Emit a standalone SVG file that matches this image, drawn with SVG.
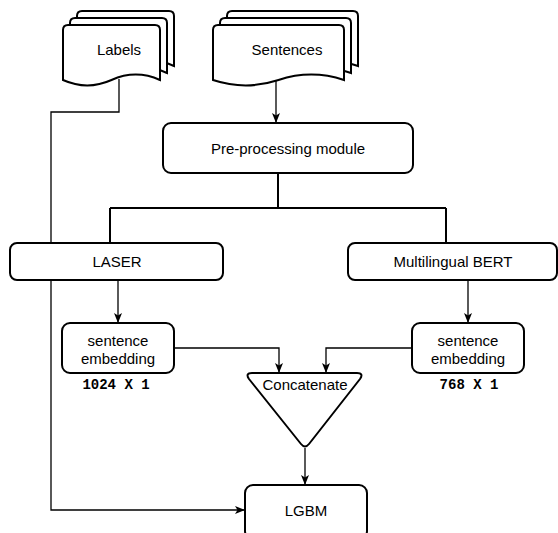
<svg xmlns="http://www.w3.org/2000/svg" width="558" height="533" viewBox="0 0 558 533">
<defs>
<style>
.node{fill:#fff;stroke:#000;stroke-width:2}
.t{font-family:"Liberation Sans",Arial,Helvetica,sans-serif;font-size:15px;fill:#000;text-anchor:middle}
.m{font-family:"Liberation Mono","Courier New",monospace;font-size:14px;font-weight:bold;fill:#000;text-anchor:middle}
.e{fill:none;stroke:#000;stroke-width:1.3}
.b{fill:none;stroke:#000;stroke-width:2}
</style>
<marker id="arr" viewBox="0 0 10 10" refX="10" refY="5" markerWidth="10" markerHeight="10" markerUnits="userSpaceOnUse" orient="auto">
<path d="M0,1 L10,5 L0,9 L2.5,5 Z" fill="#000"/>
</marker>
</defs>
<rect width="558" height="533" fill="#fff"/>
<g id="connectors">
<path class="e" d="M119,79 V112 H51 V510 H245" marker-end="url(#arr)"/>
<path class="e" d="M276,80 V123" marker-end="url(#arr)"/>
<path class="b" d="M278,173 V208"/>
<path class="b" d="M110,208 H446"/>
<path class="b" d="M110,208 V243"/>
<path class="b" d="M446,208 V243"/>
<path class="e" d="M118,280 V323" marker-end="url(#arr)"/>
<path class="e" d="M468,280 V323" marker-end="url(#arr)"/>
<path class="e" d="M174,348 H279 V373" marker-end="url(#arr)"/>
<path class="e" d="M412,348 H326 V373" marker-end="url(#arr)"/>
<path class="e" d="M305,448 V485" marker-end="url(#arr)"/>
</g>
<g id="labels">
<path class="node" d="M77,16 Q77,11 82,11 L169,11 Q174,11 174,16 L174,66 Q149.75,55.2 125.5,66 Q101.25,76.8 77,66 Z"/>
<path class="node" d="M70,23 Q70,18 75,18 L162,18 Q167,18 167,23 L167,73 Q142.75,62.2 118.5,73 Q94.25,83.8 70,73 Z"/>
<path class="node" d="M63,30 Q63,25 68,25 L155,25 Q160,25 160,30 L160,80 Q135.75,69.2 111.5,80 Q87.25,90.8 63,80 Z"/>
<text class="t" x="119" y="55">Labels</text>
</g>
<g id="sentences">
<path class="node" d="M227,16 Q227,11 232,11 L353,11 Q358,11 358,16 L358,66 Q325.25,55.2 292.5,66 Q259.75,76.8 227,66 Z"/>
<path class="node" d="M220,23 Q220,18 225,18 L346,18 Q351,18 351,23 L351,73 Q318.25,62.2 285.5,73 Q252.75,83.8 220,73 Z"/>
<path class="node" d="M213,30 Q213,25 218,25 L339,25 Q344,25 344,30 L344,80 Q311.25,69.2 278.5,80 Q245.75,90.8 213,80 Z"/>
<text class="t" x="287" y="55">Sentences</text>
</g>
<g id="preprocessing">
<rect class="node" x="163" y="123" width="250" height="50" rx="8"/>
<text class="t" x="288" y="154">Pre-processing module</text>
</g>
<g id="laser">
<rect class="node" x="10" y="243" width="213" height="37" rx="7"/>
<text class="t" x="117" y="267">LASER</text>
</g>
<g id="bert">
<rect class="node" x="348" y="243" width="209" height="37" rx="7"/>
<text class="t" x="453" y="267">Multilingual BERT</text>
</g>
<g id="emb-left">
<rect class="node" x="62" y="323" width="112" height="50" rx="8" stroke-width="1.3"/>
<text class="t" x="118" y="346">sentence</text>
<text class="t" x="118" y="364">embedding</text>
<text class="m" x="116" y="389">1024 X 1</text>
</g>
<g id="emb-right">
<rect class="node" x="412" y="323" width="112" height="50" rx="8" stroke-width="1.3"/>
<text class="t" x="468" y="346">sentence</text>
<text class="t" x="468" y="364">embedding</text>
<text class="m" x="469" y="389">768 X 1</text>
</g>
<g id="concatenate">
<path class="node" stroke-linejoin="round" d="M252,373 L357,373 Q364,373 360,379 L309,444 Q305,449 301,444 L249,379 Q245,373 252,373 Z"/>
<text class="t" x="305" y="390">Concatenate</text>
</g>
<g id="lgbm">
<rect class="node" x="245" y="485" width="122" height="54" rx="8"/>
<text class="t" x="306" y="516">LGBM</text>
</g>
</svg>
